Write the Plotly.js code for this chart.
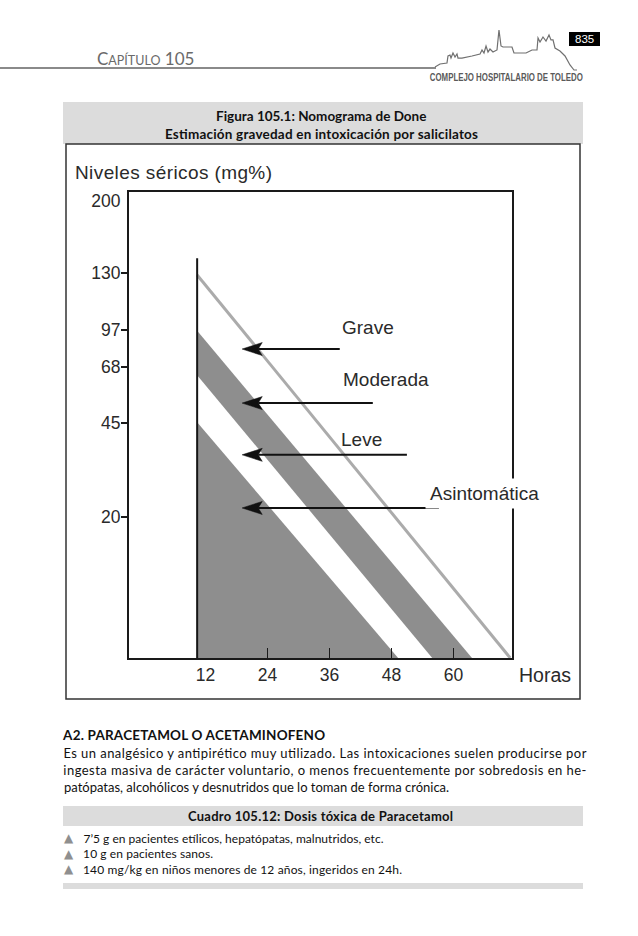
<!DOCTYPE html>
<html>
<head>
<meta charset="utf-8">
<script src="https://cdn.plot.ly/plotly-3.0.1.min.js"></script>
<style>html,body{margin:0;padding:0;background:#fff;}#chart{width:638px;height:936px;}</style>
</head>
<body>
<div id="chart"></div>
<script>
// ---------- DATA ----------
// x: hours after ingestion; y: position on the nomogram's printed serum scale (0 = bottom, 100 = top)
const hourTicks = [12, 24, 36, 48, 60];
const levelLabels = ['200', '130', '97', '68', '45', '20'];
const levelScale = [98.1, 82.6, 70.4, 62.4, 50.4, 30.3];
const markedLevels = [82.6, 70.4, 62.4, 50.4, 30.3];

const startHour = 10.4;          // vertical start line of the nomogram
const startLineTop = 85.8;
const graveLineHours = [10.4, 71.0];
const graveLineScale = [82.2, 0];
const moderateUpperHours = [10.4, 63.6];
const moderateUpperScale = [70.2, 0];
const moderateLowerHours = [10.4, 55.9];
const moderateLowerScale = [60.7, 0];
const mildUpperHours = [10.4, 49.3];
const mildUpperScale = [50.6, 0];

const zoneNames = ['Grave', 'Moderada', 'Leve', 'Asintomática'];
const arrowTipHour = 19.1;
const arrowTailHours = [38.0, 44.4, 51.0, 57.2];
const arrowScale = [66.3, 54.7, 43.6, 32.2];
const labelHours = [43.4, 46.9, 42.3, 66.0];
const labelScale = [71.0, 59.7, 46.8, 35.4];

const figTitle = ['Figura 105.1: Nomograma de Done', 'Estimación gravedad en intoxicación por salicilatos'];
const yTitle = 'Niveles séricos (mg%)';
const xTitle = 'Horas';
const sectionTitle = 'A2. PARACETAMOL O ACETAMINOFENO';
const paragraph = [
  'Es un analgésico y antipirético muy utilizado. Las intoxicaciones suelen producirse por',
  'ingesta masiva de carácter voluntario, o menos frecuentemente por sobredosis en he-',
  'patópatas, alcohólicos y desnutridos que lo toman de forma crónica.'
];
const boxTitle = 'Cuadro 105.12: Dosis tóxica de Paracetamol';
const bullets = [
  '7’5 g en pacientes etílicos, hepatópatas, malnutridos, etc.',
  '10 g en pacientes sanos.',
  '140 mg/kg en niños menores de 12 años, ingeridos en 24h.'
];

// ---------- LAYOUT HELPERS ----------
const W = 638, H = 936;
const PX = x => x / W;
const PY = y => 1 - y / H;
const bookFont = 'Lato, "Noto Sans", sans-serif';
const figFont = '"Liberation Sans", Arial, sans-serif';
const bandGray = '#8e8e8e';
const headLen = 3.9, headHalf = 1.4;   // arrowhead size in axis units

// ---------- TRACES ----------
const shaftX = [], shaftY = [], headX = [], headY = [];
zoneNames.forEach((n, i) => {
  shaftX.push(arrowTailHours[i], arrowTipHour + headLen * 0.8, null);
  shaftY.push(arrowScale[i], arrowScale[i], null);
  headX.push(arrowTipHour, arrowTipHour + headLen, arrowTipHour + headLen * 0.8, arrowTipHour + headLen, arrowTipHour, null);
  headY.push(arrowScale[i], arrowScale[i] + headHalf, arrowScale[i], arrowScale[i] - headHalf, arrowScale[i], null);
});

const traces = [
  { // asymptomatic zone (lower shaded)
    type: 'scatter', mode: 'lines', fill: 'toself', fillcolor: bandGray,
    line: {width: 0, color: bandGray},
    x: [mildUpperHours[0], mildUpperHours[1], startHour, mildUpperHours[0]],
    y: [mildUpperScale[0], mildUpperScale[1], 0, mildUpperScale[0]],
    hoverinfo: 'skip', showlegend: false
  },
  { // moderate band
    type: 'scatter', mode: 'lines', fill: 'toself', fillcolor: bandGray,
    line: {width: 0, color: bandGray},
    x: [moderateUpperHours[0], moderateUpperHours[1], moderateLowerHours[1], moderateLowerHours[0], moderateUpperHours[0]],
    y: [moderateUpperScale[0], moderateUpperScale[1], moderateLowerScale[1], moderateLowerScale[0], moderateUpperScale[0]],
    hoverinfo: 'skip', showlegend: false
  },
  { // severe boundary line
    type: 'scatter', mode: 'lines', x: graveLineHours, y: graveLineScale,
    line: {color: '#ababab', width: 3}, hoverinfo: 'skip', showlegend: false
  },
  { // start line
    type: 'scatter', mode: 'lines', x: [startHour, startHour], y: [startLineTop, 0],
    line: {color: '#151515', width: 2}, hoverinfo: 'skip', showlegend: false
  },
  { // arrow shafts
    type: 'scatter', mode: 'lines', x: shaftX, y: shaftY, connectgaps: false,
    line: {color: '#111', width: 2}, hoverinfo: 'skip', showlegend: false
  },
  { // arrow heads
    type: 'scatter', mode: 'lines', x: headX, y: headY, fill: 'toself', fillcolor: '#111',
    line: {color: '#111', width: 0.5}, hoverinfo: 'skip', showlegend: false
  },
  { // anchor for the tick-mark axes
    type: 'scatter', mode: 'markers', x: [hourTicks[1]], y: [levelScale[1]],
    xaxis: 'x2', yaxis: 'y2', marker: {opacity: 0}, hoverinfo: 'skip', showlegend: false
  }
];

// ---------- ANNOTATIONS ----------
const ann = [];
const fits = [];   // [annotation index, target width px, lengthAdjust]
function addText(opts, fitW, mode) {
  ann.push(Object.assign({xref: 'paper', yref: 'paper', xanchor: 'center', yanchor: 'middle', showarrow: false}, opts));
  if (fitW) fits.push([ann.length - 1, fitW, mode || 'spacing']);
}
zoneNames.forEach((name, i) => {
  addText({x: labelHours[i], y: labelScale[i], xref: 'x', yref: 'y', text: name,
    font: {family: figFont, size: 19, color: '#2a2a2a'},
    bgcolor: i === 3 ? '#ffffff' : 'rgba(0,0,0,0)', borderpad: 4});
});
addText({x: PX(173.5), y: PY(172), text: yTitle, font: {family: figFont, size: 19, color: '#2a2a2a'}}, 197);
addText({x: PX(517), y: PY(675), xanchor: 'left', text: xTitle, font: {family: figFont, size: 19.5, color: '#2a2a2a'}});

// header
addText({x: PX(95), y: PY(58), xanchor: 'left',
  text: 'C<span style="font-size:12.5px">APÍTULO</span> 105', font: {family: bookFont, size: 17, color: '#6a6a6a'}});
addText({x: PX(584.5), y: PY(39), text: '835',
  font: {family: figFont, size: 11.5, color: '#ffffff'}});
addText({x: PX(506.5), y: PY(77.5), text: 'COMPLEJO HOSPITALARIO DE TOLEDO',
  font: {family: figFont, size: 10, weight: 'bold', color: '#5a5a5a'}}, 153, 'spacingAndGlyphs');

// figure title
addText({x: PX(321), y: PY(116), text: figTitle[0], font: {family: bookFont, size: 13.5, weight: 'bold', color: '#111'}});
addText({x: PX(321.5), y: PY(134), text: figTitle[1], font: {family: bookFont, size: 13.5, weight: 'bold', color: '#111'}}, 313);

// section text
addText({x: PX(194), y: PY(735), text: sectionTitle, font: {family: bookFont, size: 13.5, weight: 'bold', color: '#111'}}, 262);
const paraSpans = [[63, 586], [63, 586]];
paragraph.forEach((line, i) => {
  const s = paraSpans[i];
  if (s) {
    addText({x: PX((s[0] + s[1]) / 2), y: PY(752.5 + 17 * i), text: line, font: {family: bookFont, size: 13, color: '#111'}}, s[1] - s[0]);
  } else {
    addText({x: PX(62), y: PY(752.5 + 17 * i), xanchor: 'left', text: line, font: {family: bookFont, size: 13, color: '#111'}});
  }
});
addText({x: PX(320.5), y: PY(816), text: boxTitle, font: {family: bookFont, size: 13, weight: 'bold', color: '#111'}}, 265);
const bulletSpans = [[83, 383], [83, 213], [83, 402]];
bullets.forEach((line, i) => {
  const yy = 838 + 15.5 * i;
  addText({x: PX(69), y: PY(yy), text: '▲', font: {family: '"DejaVu Sans", sans-serif', size: 12, color: '#8f8f8f'}});
  const s = bulletSpans[i];
  addText({x: PX((s[0] + s[1]) / 2), y: PY(yy), text: line, font: {family: bookFont, size: 12, color: '#111'}}, s[1] - s[0]);
});

// ---------- SHAPES (page decoration) ----------
const skyline = [[435,67],[440,64],[447,63],[448,56],[450,55],[451,58],[453,53],[455,57],[457,54],[458,58],[462,58],
  [472,56],[480,54],[482,50],[484,53],[486,46],[488,52],[490,49],[493,52],[497,50],[499,30],[501,46],[503,47],[512,47],
  [514,53],[526,53],[532,50],[537,50],[538,38],[540,42],[543,37],[546,41],[549,35],[551,40],[553,40],[555,48],[560,51],
  [565,56],[570,65],[574,70],[577,70]];
const skyPath = 'M ' + skyline.map(p => PX(p[0]).toFixed(4) + ',' + PY(p[1]).toFixed(4)).join(' L ');
const rect = (x0, y0, x1, y1, fill, line) => ({type: 'rect', xref: 'paper', yref: 'paper',
  x0: PX(x0), x1: PX(x1), y0: PY(y1), y1: PY(y0), fillcolor: fill, line: line || {width: 0}, layer: 'below'});
const shapes = [
  {type: 'line', xref: 'paper', yref: 'paper', x0: 0, x1: PX(436), y0: PY(68), y1: PY(68), line: {color: '#8a8a8a', width: 2}},
  {type: 'path', xref: 'paper', yref: 'paper', path: skyPath, line: {color: '#707070', width: 1.2}},
  rect(569, 32, 600, 46, '#000000'),
  rect(63, 102, 583, 144, '#dcdcdc'),
  rect(66, 144, 580, 699, 'rgba(0,0,0,0)', {color: '#333', width: 1.5}),
  rect(63, 806, 583, 826, '#dcdcdc'),
  rect(63, 883, 583, 889, '#dcdcdc')
];

const xr = [-2.79, 71.34];
const yr = [0, 100];
const xdom = [PX(129), PX(512)];
const ydom = [PY(658), PY(192)];

const layout = {
  width: W, height: 936, margin: {l: 0, r: 0, t: 0, b: 0},
  paper_bgcolor: '#ffffff', plot_bgcolor: '#ffffff', showlegend: false,
  xaxis: {domain: xdom, range: xr, fixedrange: true, showgrid: false, zeroline: false,
    showline: true, mirror: true, linecolor: '#1a1a1a', linewidth: 2,
    tickmode: 'array', tickvals: hourTicks, ticktext: hourTicks.map(String), ticks: '',
    ticklabelstandoff: 0, tickfont: {family: figFont, size: 17.5, color: '#2a2a2a'}},
  yaxis: {domain: ydom, range: yr, fixedrange: true, showgrid: false, zeroline: false,
    showline: true, mirror: true, linecolor: '#1a1a1a', linewidth: 2,
    tickmode: 'array', tickvals: levelScale, ticktext: levelLabels, ticks: '',
    ticklabelstandoff: 3, tickfont: {family: figFont, size: 17.5, color: '#2a2a2a'}},
  xaxis2: {overlaying: 'x', anchor: 'y2', domain: xdom, range: xr, showgrid: false, zeroline: false, showline: false,
    tickmode: 'array', tickvals: hourTicks.slice(1), ticks: 'inside', ticklen: 10, tickwidth: 1.5, tickcolor: '#1a1a1a',
    showticklabels: false, fixedrange: true},
  yaxis2: {overlaying: 'y', anchor: 'x2', domain: ydom, range: yr, showgrid: false, zeroline: false, showline: false,
    tickmode: 'array', tickvals: markedLevels, ticks: 'outside', ticklen: 7, tickwidth: 1.5, tickcolor: '#1a1a1a',
    showticklabels: false, fixedrange: true},
  annotations: ann,
  shapes: shapes
};

Plotly.newPlot('chart', traces, layout, {staticPlot: true, displayModeBar: false}).then(() => {
  fits.forEach(([idx, w, mode]) => {
    const t = document.querySelector('#chart g.annotation[data-index="' + idx + '"] text.annotation-text');
    if (t) { t.setAttribute('textLength', w); t.setAttribute('lengthAdjust', mode); }
  });
});
</script>
</body>
</html>
